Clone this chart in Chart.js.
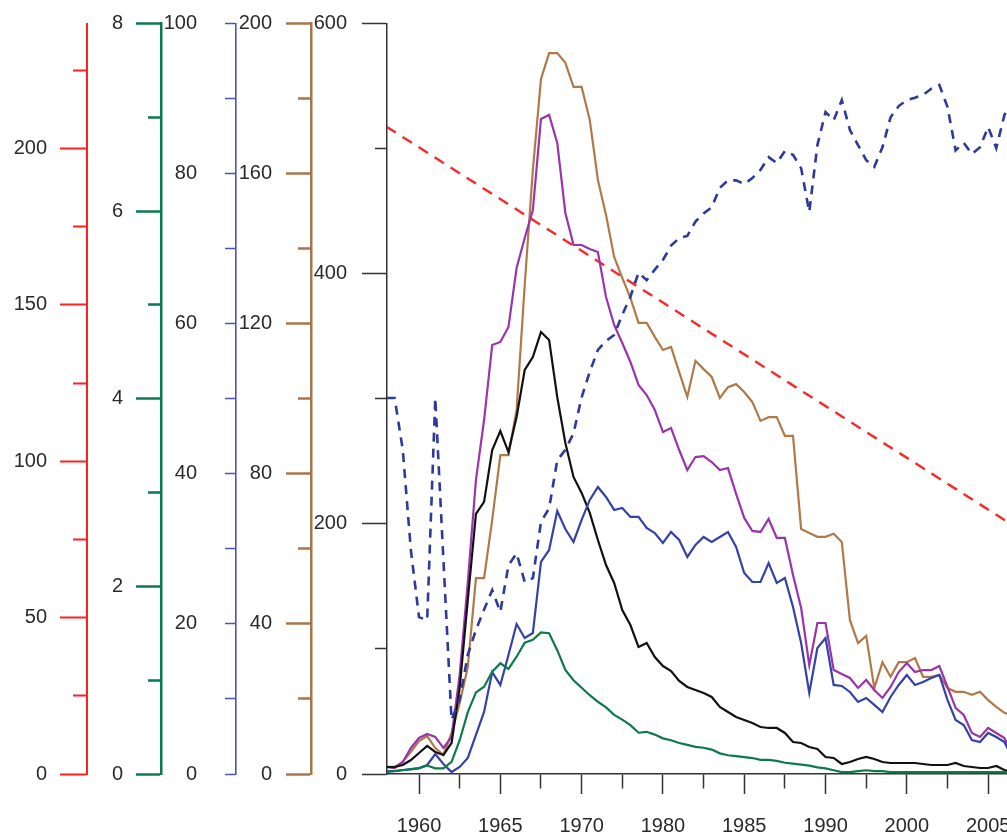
<!DOCTYPE html>
<html>
<head>
<meta charset="utf-8">
<script src="https://cdn.jsdelivr.net/npm/chart.js@4.4.1/dist/chart.umd.min.js"></script>
<style>
  html, body { margin: 0; padding: 0; background: #fff; overflow: hidden; }
  #wrap { width: 1060px; height: 836px; }
</style>
</head>
<body>
<div id="wrap"><canvas id="chart"></canvas></div>
<script>
// x axis: one step per data point, a labelled tick every 10 steps
// (the plot runs on past the right edge of the window, as in the original crop)
const xLabels = ['1960', '1965', '1970', '1980', '1985', '1990', '2000', '2005'];
const xPos = Array.from({ length: 78 }, (_, i) => i - 4);

// brown series, brown axis (0-200)
const brownVals = [1.9, 1.9, 3.2, 5.9,
  8.8, 10.1, 6.9, 5.1, 10.9, 18.9, 28.5, 52.2, 52.2, 67.7,
  85.0, 85.0, 97.0, 130.3, 161.0, 185.2, 192.1, 192.1, 189.5, 183.1,
  183.1, 174.3, 158.3, 149.0, 137.8, 132.2, 126.9, 120.2, 120.2, 116.5,
  113.0, 113.8, 107.1, 100.5, 110.1, 107.9, 105.8, 100.2, 103.1, 103.9,
  101.8, 99.1, 94.1, 95.1, 95.1, 90.1, 90.1, 65.3, 64.2, 63.2,
  63.2, 64.0, 61.8, 41.0, 34.9, 36.8, 22.9, 29.8, 25.9, 29.8,
  29.8, 30.9, 25.9, 25.9, 26.4, 22.9, 21.9, 21.9, 21.1, 21.9,
  19.7, 17.9, 16.3, 15.5];

// purple series, black axis (0-600)
const purpleVals = [5.6, 4.8, 9.6, 20.8,
  28.8, 32.0, 29.6, 20.8, 29.6, 79.2, 153.5, 235.1, 283.0, 343.0,
  345.4, 357.4, 404.5, 428.5, 450.9, 523.7, 526.9, 504.5, 448.5, 422.9,
  422.9, 419.7, 417.3, 381.4, 359.0, 344.6, 329.4, 311.0, 303.0, 291.0,
  273.4, 276.6, 259.0, 243.0, 253.4, 254.2, 249.4, 243.0, 244.6, 223.9,
  204.7, 194.3, 193.5, 203.9, 188.7, 188.7, 159.1, 132.7, 87.1, 120.7,
  120.7, 83.1, 80.0, 76.8, 68.8, 75.2, 67.2, 60.8, 69.6, 81.5,
  88.7, 81.5, 83.1, 83.1, 86.3, 69.6, 52.8, 47.2, 32.8, 29.6,
  36.8, 32.8, 28.8, 15.2];

// black series, black axis
const blackVals = [5.6, 5.6, 7.2, 11.2,
  16.8, 22.4, 17.6, 15.2, 24.8, 68.8, 139.1, 207.9, 217.5, 259.0,
  274.2, 257.4, 285.4, 323.0, 333.4, 353.4, 347.0, 301.4, 264.6, 237.5,
  224.7, 208.7, 187.1, 167.1, 152.7, 131.1, 119.1, 101.5, 104.7, 93.5,
  86.3, 82.3, 74.4, 69.6, 67.2, 64.8, 61.6, 53.6, 49.6, 45.6,
  43.2, 40.8, 37.6, 36.8, 36.8, 32.8, 25.6, 24.8, 21.6, 20.0,
  13.6, 12.8, 8.0, 9.6, 12.0, 13.6, 12.0, 9.6, 8.8, 8.8,
  8.8, 8.8, 8.0, 7.2, 7.2, 7.2, 8.8, 6.4, 5.6, 4.8,
  4.8, 6.4, 3.2, 1.6];

// solid blue series, black axis
const blueVals = [1.6, 2.4, 3.2, 4.0,
  4.8, 7.2, 16.0, 8.0, 1.6, 5.6, 12.8, 31.2, 49.6, 81.5,
  71.2, 95.1, 119.9, 108.7, 112.7, 169.5, 179.1, 210.3, 195.9, 185.5,
  203.1, 219.1, 229.5, 221.5, 211.1, 212.7, 205.5, 205.5, 196.7, 192.7,
  184.7, 193.5, 187.1, 173.5, 183.1, 189.5, 185.5, 189.5, 193.5, 181.5,
  160.7, 153.5, 153.5, 168.7, 152.7, 156.7, 133.5, 104.7, 64.8, 100.7,
  108.7, 71.2, 70.4, 65.6, 57.6, 60.8, 55.2, 49.6, 61.6, 71.2,
  79.2, 71.2, 73.6, 76.8, 79.2, 59.2, 43.2, 39.2, 27.2, 25.6,
  32.8, 29.6, 25.6, 12.8];

// green series, green axis (0-8)
const greenVals = [0.03, 0.03, 0.04, 0.05,
  0.06, 0.09, 0.06, 0.06, 0.13, 0.36, 0.66, 0.87, 0.93, 1.09,
  1.18, 1.12, 1.25, 1.40, 1.43, 1.51, 1.50, 1.32, 1.11, 1.00,
  0.92, 0.84, 0.77, 0.71, 0.63, 0.58, 0.52, 0.44, 0.45, 0.42,
  0.38, 0.36, 0.33, 0.31, 0.29, 0.28, 0.26, 0.22, 0.20, 0.19,
  0.18, 0.17, 0.15, 0.15, 0.14, 0.12, 0.11, 0.10, 0.09, 0.07,
  0.06, 0.04, 0.02, 0.02, 0.03, 0.04, 0.03, 0.03, 0.02, 0.02,
  0.02, 0.02, 0.02, 0.02, 0.02, 0.02, 0.02, 0.02, 0.02, 0.02,
  0.02, 0.02, 0.02, 0.01];

// dashed blue series, dashed blue axis (0-100)
const dashVals = [50.1, 50.1, 43.2, 29.8,
  20.9, 20.5, 50.1, 28.5, 7.2, 9.9, 15.9, 19.2, 21.9, 24.5,
  21.6, 27.8, 29.4, 25.6, 26.1, 33.6, 35.4, 41.8, 43.2, 45.4,
  50.2, 53.6, 56.5, 57.7, 58.5, 61.2, 63.6, 66.8, 65.8, 67.2,
  68.5, 70.4, 71.4, 71.7, 73.6, 74.7, 75.5, 78.1, 79.1, 79.1,
  78.6, 79.4, 80.5, 82.2, 81.4, 83.0, 82.5, 80.7, 74.9, 83.8,
  88.2, 87.1, 89.8, 85.8, 83.8, 81.8, 80.9, 83.5, 87.5, 89.0,
  89.8, 90.1, 90.5, 91.3, 91.8, 88.9, 83.1, 84.1, 82.6, 83.5,
  86.2, 83.4, 87.8, 89.8];

// red dashed trend, red axis (0-240)
const trendX = [-4, 73];
const trendVals = [207, 79.6];

const pts = (xs, ys) => xs.map((x, i) => ({ x: x, y: ys[i] }));

Chart.defaults.font.family = "'Liberation Sans', Arial, sans-serif";
Chart.defaults.font.size = 20;
Chart.defaults.color = '#2a2a2a';

function yAxis(o) {
  return {
    type: 'linear',
    position: 'left',
    weight: o.weight,
    min: 0,
    max: o.max,
    afterFit: (s) => { s.width = o.width; s.paddingTop = 0; s.paddingBottom = 0; },
    border: { color: o.color, width: o.lw, dash: o.dash || [] },
    grid: {
      drawOnChartArea: false,
      tickLength: o.tick,
      tickColor: o.color,
      tickWidth: o.lw,
      tickBorderDash: (ctx) => {
        const v = ctx.tick ? ctx.tick.value : 0;
        // short ticks between the labelled ones (all short on the dashed axis)
        if (!o.major || Math.abs(v % o.major) > 1e-6) return [0, o.tick - o.minor, 100];
        return [];
      }
    },
    ticks: {
      stepSize: o.step,
      includeBounds: false,
      autoSkip: false,
      maxTicksLimit: 100,
      padding: o.pad,
      color: '#2a2a2a',
      callback: (v) => (Math.abs(v % o.label) < 1e-6 ? String(v) : '')
    }
  };
}

new Chart(document.getElementById('chart'), {
  type: 'line',
  data: {
    datasets: [
      { data: pts(xPos, dashVals), yAxisID: 'yBlue', borderColor: '#2c3a9c', borderWidth: 2.6, borderDash: [9, 7] },
      { data: pts(xPos, greenVals), yAxisID: 'yGreen', borderColor: '#0e7a4c', borderWidth: 2.2 },
      { data: pts(xPos, blueVals), yAxisID: 'yBlack', borderColor: '#3442a8', borderWidth: 2.2 },
      { data: pts(xPos, blackVals), yAxisID: 'yBlack', borderColor: '#111111', borderWidth: 2.2 },
      { data: pts(xPos, purpleVals), yAxisID: 'yBlack', borderColor: '#9a34aa', borderWidth: 2.2 },
      { data: pts(xPos, brownVals), yAxisID: 'yBrown', borderColor: '#b07a48', borderWidth: 2.2 },
      { data: pts(trendX, trendVals), yAxisID: 'yRed', borderColor: '#ff2626', borderWidth: 2.4, borderDash: [11, 8] }
    ]
  },
  options: {
    responsive: true,
    maintainAspectRatio: false,
    animation: false,
    layout: { padding: { top: 23.5, left: 0, right: 0, bottom: 0 } },
    elements: { point: { radius: 0 }, line: { tension: 0, fill: false } },
    plugins: { legend: { display: false }, tooltip: { enabled: false } },
    scales: {
      x: {
        type: 'linear',
        min: -3.94,
        max: 78.84,
        afterFit: (s) => { s.height = 62; },
        border: { color: '#333', width: 1.5 },
        grid: {
          drawOnChartArea: false,
          tickLength: 20,
          tickColor: '#333',
          tickWidth: 1.5,
          tickBorderDash: (ctx) => {
            const v = ctx.tick ? Math.round(ctx.tick.value) : 0;
            return v % 10 === 0 ? [] : [14, 100];
          }
        },
        ticks: {
          stepSize: 5,
          includeBounds: false,
          autoSkip: false,
          maxRotation: 0,
          maxTicksLimit: 100,
          padding: 20,
          color: '#2a2a2a',
          callback: (v) => {
            const r = Math.round(v);
            return r % 10 === 0 ? (xLabels[r / 10] || '') : '';
          }
        }
      },
      yRed: yAxis({ weight: 5, max: 240, width: 87, color: '#ff2020', lw: 2, tick: 27, minor: 14, major: 50, step: 25, label: 50, pad: 13 }),
      yGreen: yAxis({ weight: 4, max: 8, width: 74, color: '#0b7a4e', lw: 2.5, tick: 25, minor: 13, major: 2, step: 1, label: 2, pad: 13 }),
      yBlue: yAxis({ weight: 3, max: 100, width: 75, color: '#4c52c0', lw: 1.6, tick: 25, minor: 11, major: 0, step: 10, label: 20, pad: 14, dash: [9, 7] }),
      yBrown: yAxis({ weight: 2, max: 200, width: 75, color: '#a8764a', lw: 2.5, tick: 25, minor: 13, major: 40, step: 20, label: 40, pad: 14 }),
      yBlack: yAxis({ weight: 1, max: 600, width: 76, color: '#333', lw: 1.5, tick: 25, minor: 12, major: 200, step: 100, label: 200, pad: 15 })
    }
  }
});
</script>
</body>
</html>
